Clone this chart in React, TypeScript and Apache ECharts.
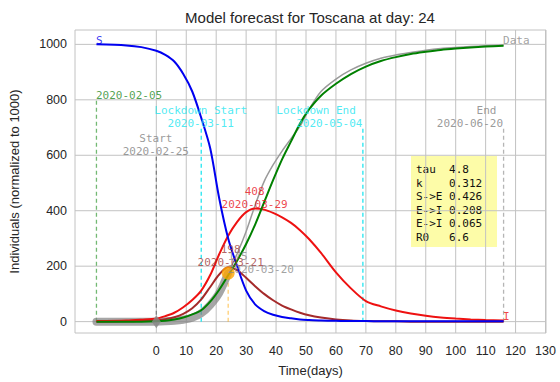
import React, { useEffect, useRef } from "react";
import * as echarts from "echarts";

// ---- data ----
const days = [-20, -10, -5, 0, 3, 6, 9, 12, 15, 18, 21, 24, 27, 30, 33, 36, 39, 42, 45, 48, 51, 55, 60, 65, 70, 75, 80, 85, 90, 95, 100, 105, 110, 116];
const susceptible = [1000, 996, 990, 977, 962, 938, 893, 830, 735, 625, 445, 300, 200, 112, 62, 38, 25, 17, 12, 8, 6, 4, 3, 2, 2, 1, 1, 1, 1, 1, 1, 1, 1, 1];
const exposed = [0, 1, 3, 5, 9, 16, 28, 48, 80, 125, 170, 196, 186, 158, 128, 100, 77, 58, 44, 32, 23, 15, 8, 4, 2, 1, 1, 0, 0, 0, 0, 0, 0, 0];
const infected = [2, 4, 7, 11, 20, 32, 52, 78, 112, 168, 243, 310, 360, 395, 408, 404, 392, 376, 356, 330, 298, 248, 178, 120, 74, 55, 40, 29, 21, 15, 11, 8, 6, 4];
const recovered = [0, 0, 0, 1, 3, 8, 15, 26, 41, 72, 115, 167, 220, 280, 350, 430, 510, 585, 650, 715, 765, 815, 858, 893, 920, 940, 954, 965, 973, 980, 985, 989, 992, 995];

const observedDays = [-20, -10, -5, 0, 3, 6, 9, 12, 15, 18, 21, 24];
const observedValues = [0, 0, 0, 0, 1, 3, 7, 14, 30, 60, 103, 175];
const forecastDays = [24, 27, 30, 33, 36, 39, 42, 45, 48, 51, 55, 60, 65, 70, 75, 80, 85, 90, 95, 100, 105, 110, 116];
const forecastValues = [175, 245, 325, 420, 505, 565, 615, 660, 705, 765, 830, 875, 908, 932, 950, 962, 971, 979, 985, 989, 992, 995, 998];

const eventDays = [-20, 0, 15, 24, 69, 116];
const eventTops = [800, 600, 700, 175, 700, 700];
const eventTexts = ["2020-02-05", "Start\n2020-02-25", "Lockdown Start\n2020-03-11", "", "Lockdown End\u00a0\n2020-05-04", "End\u00a0\n2020-06-20"];

const peakDays = [33, 25, 24];
const peakValues = [408, 198, 175];
const peakDates = ["2020-03-29", "2020-03-21", "2020-03-20"];

const paramNames = ["tau", "k", "S->E", "E->I", "E->I", "R0"];
const paramValues = ["4.8", "0.312", "0.426", "0.208", "0.065", "6.6"];

const xTicks = [0, 10, 20, 30, 40, 50, 60, 70, 80, 90, 100, 110, 120, 130];
const yTicks = [0, 200, 400, 600, 800, 1000];
const xRange = [-27.1667, 130.1667];
const yRange = [-41, 1051.8];

const titleText = "Model forecast for Toscana at day: 24";

// ---- styles ----
const SANS = "'Liberation Sans', Arial, sans-serif";
const MONO = "'DejaVu Sans Mono', monospace";
const TXT = "#262626";
const GRID = "#c2c2c2";

const eventStyles = [
  { line: "rgba(0,128,0,0.55)", text: "#1f8a1f", align: "left" },
  { line: "rgba(110,110,110,0.8)", text: "#808080", align: "center" },
  { line: "#22e5f0", text: "#22e5f0", align: "center" },
  { line: "rgba(255,165,0,0.55)", text: "orange", align: "center" },
  { line: "#22e5f0", text: "#22e5f0", align: "right" },
  { line: "rgba(150,150,150,0.7)", text: "#808080", align: "right" },
];
const peakStyles = [
  { color: "#e8121b", align: "center" },
  { color: "#a03a3a", align: "center" },
  { color: "#8a8a8a", align: "left" },
];

function textPoint(x: number, y: number, text: string, color: string, align: string, z = 20) {
  return {
    type: "scatter",
    data: [[x, y]],
    symbolSize: 1,
    itemStyle: { color: "rgba(0,0,0,0)" },
    silent: true,
    z,
    label: {
      show: true,
      position: [0, 0],
      formatter: text,
      align,
      verticalAlign: "bottom",
      offset: [0, 3],
      color,
      fontFamily: MONO,
      fontSize: 11,
      lineHeight: 13,
    },
  };
}

function gridLine(points: number[][]) {
  return {
    type: "line",
    data: points,
    symbol: "none",
    silent: true,
    z: 1,
    lineStyle: { color: GRID, width: 1 },
  };
}

function buildOption() {
  const series: any[] = [];
  xTicks.forEach((v) => series.push(gridLine([[v, yRange[0]], [v, yRange[1]]])));
  yTicks.forEach((v) => series.push(gridLine([[xRange[0], v], [xRange[1], v]])));
  // event vertical dashed lines
  eventDays.forEach((d, i) => {
    series.push({
      type: "line",
      data: [[d, 0], [d, eventTops[i]]],
      symbol: "none",
      silent: true,
      z: 3,
      lineStyle: { color: eventStyles[i].line, width: 1.3, type: [4, 3] },
    });
    if (eventTexts[i]) series.push(textPoint(d, eventTops[i], eventTexts[i], eventStyles[i].text, eventStyles[i].align));
  });
  // observed data (thick)
  series.push({
    type: "line",
    data: observedDays.map((d, i) => [d, observedValues[i]]),
    symbol: "none",
    smooth: 0.3,
    z: 4,
    lineStyle: { color: "rgba(128,128,128,0.7)", width: 8, cap: "round", join: "round" },
  });
  // forecast data line (thin)
  series.push({
    type: "line",
    data: forecastDays.map((d, i) => [d, forecastValues[i]]),
    symbol: "none",
    smooth: 0.3,
    z: 4,
    lineStyle: { color: "#9a9a9a", width: 1.5 },
  });
  const curves: [number[], string][] = [
    [exposed, "#a52a2a"],
    [infected, "#ee1111"],
    [susceptible, "#0000f0"],
    [recovered, "#008000"],
  ];
  curves.forEach(([vals, color]) => {
    series.push({
      type: "line",
      data: days.map((d, i) => [d, vals[i]]),
      symbol: "none",
      smooth: 0.3,
      z: 6,
      lineStyle: { color, width: 2 },
    });
  });
  // start diamond
  series.push({ type: "scatter", data: [[0, 0]], symbol: "diamond", symbolSize: [9, 13], itemStyle: { color: "#888888" }, z: 7 });
  // current day dot
  series.push({ type: "scatter", data: [[peakDays[2], peakValues[2]]], symbol: "circle", symbolSize: 13, itemStyle: { color: "orange" }, z: 7 });
  // peak labels
  peakDays.forEach((d, i) => {
    series.push(textPoint(d, peakValues[i], `${peakValues[i]}\n${peakDates[i]}`, peakStyles[i].color, peakStyles[i].align, 21));
  });
  // curve name labels
  series.push(textPoint(days[0], susceptible[0], "S", "#0000f0", "left"));
  series.push(textPoint(forecastDays[forecastDays.length - 1], forecastValues[forecastValues.length - 1], "Data", "#8a8a8a", "left"));
  series.push(textPoint(days[days.length - 1], infected[infected.length - 1], "I", "#ee1111", "left"));

  const paramText = paramNames.map((n, i) => (n.padEnd(5, " ") + paramValues[i]).replace(/ /g, "\u00a0")).join("\n");

  return {
    animation: false,
    grid: { left: 74, right: 14, top: 30, bottom: 46, show: true, borderColor: GRID, borderWidth: 1 },
    xAxis: {
      type: "value",
      min: xRange[0],
      max: xRange[1],
      name: "Time(days)",
      nameLocation: "middle",
      nameGap: 31,
      nameTextStyle: { color: TXT, fontFamily: SANS, fontSize: 13 },
      axisLine: { show: false },
      axisTick: { show: false },
      splitLine: { show: false },
      axisLabel: { customValues: xTicks, formatter: (v: number) => String(v), color: TXT, fontFamily: SANS, fontSize: 12.5, margin: 11 },
    },
    yAxis: {
      type: "value",
      min: yRange[0],
      max: yRange[1],
      name: "Individuals (normalized to 1000)",
      nameLocation: "middle",
      nameGap: 54,
      nameTextStyle: { color: TXT, fontFamily: SANS, fontSize: 13 },
      axisLine: { show: false },
      axisTick: { show: false },
      splitLine: { show: false },
      axisLabel: { customValues: yTicks, formatter: (v: number) => String(v), color: TXT, fontFamily: SANS, fontSize: 12.5, margin: 8 },
    },
    graphic: [
      { type: "text", x: 310, y: 17, style: { text: titleText, fill: TXT, font: `15px ${SANS}`, textAlign: "center", textVerticalAlign: "middle" }, z: 50 },
      {
        type: "group",
        x: 411,
        y: 156,
        z: 40,
        children: [
          { type: "rect", shape: { x: 0, y: 0, width: 86, height: 91 }, style: { fill: "#fdfca8" } },
          { type: "text", x: 5, y: 7, style: { text: paramText, fill: "#111111", font: `11px ${MONO}`, lineHeight: 13.5, textVerticalAlign: "top" } },
        ],
      },
    ],
    series,
  };
}

export default function App() {
  const ref = useRef<HTMLDivElement>(null);
  useEffect(() => {
    if (!ref.current) return;
    const chart = echarts.init(ref.current, null, { renderer: "svg" });
    chart.setOption(buildOption() as any);
    return () => chart.dispose();
  }, []);
  return <div ref={ref} style={{ position: "fixed", left: 0, top: 0, width: 560, height: 382, background: "#fff" }} />;
}
